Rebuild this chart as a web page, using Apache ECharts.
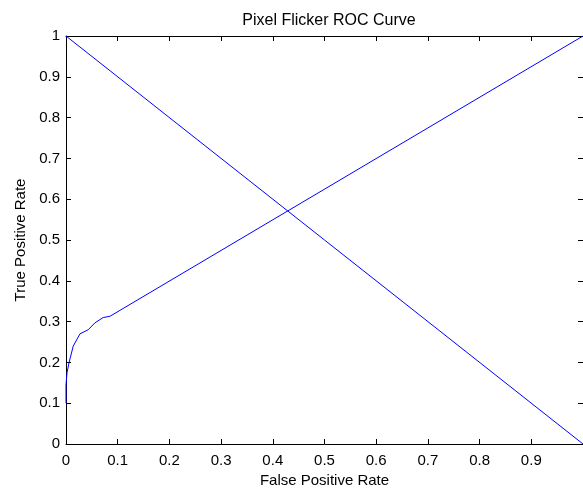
<!DOCTYPE html>
<html>
<head>
<meta charset="utf-8">
<script src="https://cdn.jsdelivr.net/npm/echarts@6/dist/echarts.min.js"></script>
<style>
  html, body { margin: 0; padding: 0; background: #fff; }
  #main { width: 583px; height: 493px; }
</style>
</head>
<body>
<div id="main"></div>
<script>
var chartDom = document.getElementById('main');
var myChart = echarts.init(chartDom);
var option;

// ROC curve
var rocFpr = [0, 0, 0.002, 0.006, 0.014, 0.027, 0.043, 0.056, 0.072, 0.085, 1];
var rocTpr = [0.1, 0.145, 0.175, 0.2, 0.24, 0.27, 0.28, 0.297, 0.31, 0.313, 1];
// the diagonal line
var diagFpr = [0, 1];
var diagTpr = [1, 0];

var titleText = 'Pixel Flicker ROC Curve';
var xName = 'False Positive Rate';
var yName = 'True Positive Rate';

function pairs(xs, ys) {
  return xs.map(function (x, i) {
    return [x, ys[i]];
  });
}

var font = 'Liberation Sans, Arial, sans-serif';
var tick = { inside: true, length: 5, lineStyle: { color: '#000' } };
var line = { onZero: false, lineStyle: { color: '#000', width: 1 } };

function fmt(v) {
  return +v.toFixed(1) + '';
}

option = {
  backgroundColor: '#fff',
  animation: false,
  title: {
    text: titleText,
    left: 324,
    textAlign: 'center',
    top: 8,
    textStyle: { fontFamily: font, fontSize: 16, fontWeight: 'normal', color: '#000' }
  },
  grid: { left: 66, right: 0, top: 36, bottom: 49 },
  xAxis: [
    {
      type: 'value',
      min: 0,
      max: 1,
      interval: 0.1,
      name: xName,
      nameLocation: 'middle',
      nameGap: 28,
      nameTextStyle: { fontFamily: font, fontSize: 15, color: '#000' },
      axisLine: line,
      axisTick: tick,
      splitLine: { show: false },
      axisLabel: {
        fontFamily: font,
        fontSize: 15,
        color: '#000',
        margin: 9,
        showMaxLabel: false,
        formatter: fmt
      }
    },
    {
      type: 'value',
      position: 'top',
      min: 0,
      max: 1,
      interval: 0.1,
      axisLine: line,
      axisTick: tick,
      splitLine: { show: false },
      axisLabel: { show: false }
    }
  ],
  yAxis: [
    {
      type: 'value',
      min: 0,
      max: 1,
      interval: 0.1,
      name: yName,
      nameLocation: 'middle',
      nameGap: 38,
      nameTextStyle: { fontFamily: font, fontSize: 15, color: '#000' },
      axisLine: line,
      axisTick: tick,
      splitLine: { show: false },
      axisLabel: {
        fontFamily: font,
        fontSize: 15,
        color: '#000',
        margin: 6,
        formatter: fmt
      }
    },
    {
      type: 'value',
      position: 'right',
      min: 0,
      max: 1,
      interval: 0.1,
      axisLine: line,
      axisTick: tick,
      splitLine: { show: false },
      axisLabel: { show: false }
    }
  ],
  series: [
    {
      type: 'line',
      xAxisIndex: 1,
      yAxisIndex: 1,
      data: pairs(diagFpr, diagTpr),
      showSymbol: false,
      lineStyle: { color: '#0000ff', width: 1 }
    },
    {
      type: 'line',
      data: pairs(rocFpr, rocTpr),
      showSymbol: false,
      lineStyle: { color: '#0000ff', width: 1 }
    }
  ]
};

option && myChart.setOption(option);
</script>
</body>
</html>
